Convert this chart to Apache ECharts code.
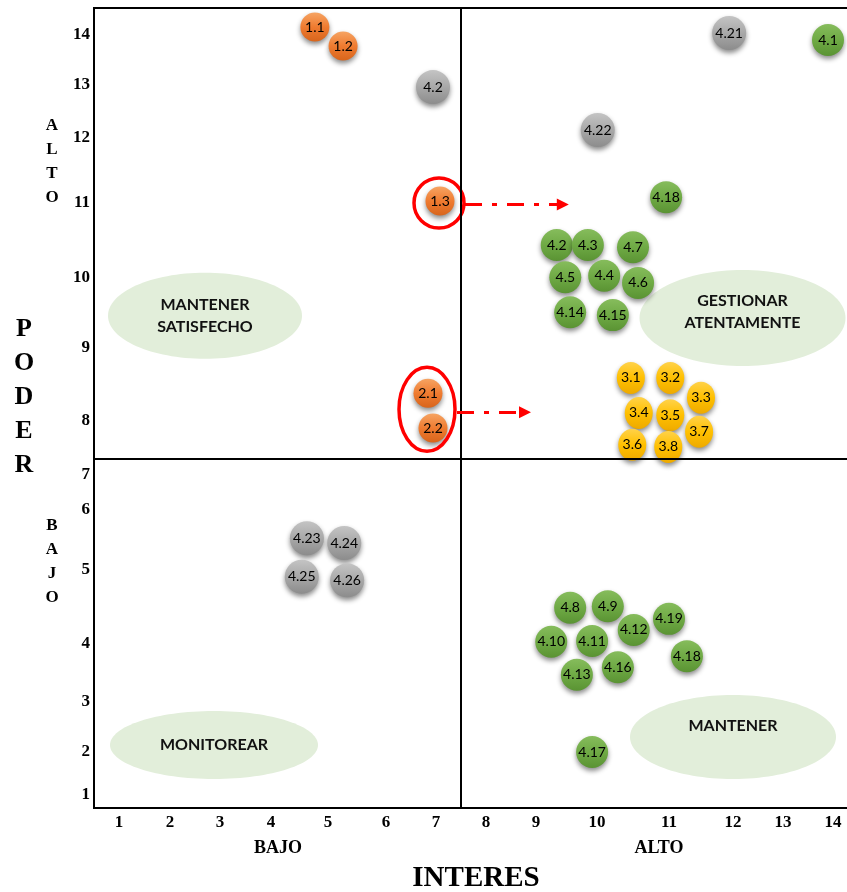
<!DOCTYPE html>
<html>
<head>
<meta charset="utf-8">
<script src="https://cdn.jsdelivr.net/npm/echarts@6/dist/echarts.min.js"></script>
<style>html,body{margin:0;padding:0;background:#fff}#chart{width:847px;height:892px}</style>
</head>
<body>
<div id="chart"></div>
<script>
// ---- Axis ticks (labels and their positions along the non-uniform axes) ----
const xTickLabels = ['1','2','3','4','5','6','7','8','9','10','11','12','13','14'];
const xTickPos = [119,170,220,271,328,386,436,486,536,597,669,733,783,833];
const yTickLabels = ['1','2','3','4','5','6','7','8','9','10','11','12','13','14'];
const yTickPos = [795,752,702,644,570,510,475,421,348,278,203,138,85,35];

// ---- Stakeholders (interes, poder) ----
const orangeNames = ['1.1','1.2','1.3','2.1','2.2'];
const orangeInteres = [4.77,5.26,7.08,6.84,6.94];
const orangePoder = [14.16,13.78,11.03,8.38,7.87];

const greyNames = ['4.2','4.21','4.22','4.23','4.24','4.25','4.26'];
const greyInteres = [6.94,11.94,10.01,4.63,5.28,4.54,5.33];
const greyPoder = [12.96,14.04,12.15,5.53,5.45,4.91,4.86];

const greenNames = ['4.1','4.18','4.2','4.3','4.7','4.5','4.4','4.6','4.14','4.15','4.8','4.9','4.19','4.12','4.10','4.11','4.18','4.16','4.13','4.17'];
const greenInteres = [13.9,10.96,9.34,9.85,10.5,9.48,10.1,10.57,9.56,10.22,9.56,10.15,11.0,10.51,9.25,9.92,11.28,10.29,9.67,9.92];
const greenPoder = [13.9,11.09,10.44,10.44,10.41,10.01,10.03,9.93,9.51,9.47,4.49,4.51,4.34,4.19,4.03,4.04,3.79,3.6,3.47,2.0];

const yellowNames = ['3.1','3.2','3.3','3.4','3.5','3.6','3.7','3.8'];
const yellowInteres = [10.47,11.02,11.5,10.58,11.02,10.49,11.47,10.99];
const yellowPoder = [8.59,8.59,8.32,8.11,8.08,7.56,7.8,7.52];

// ---- Quadrant zones ----
const zoneNames = ['MANTENER\nSATISFECHO','GESTIONAR\nATENTAMENTE','MONITOREAR','MANTENER'];
const zoneInteres = [2.7,12.19,2.88,12.0];
const zonePoder = [9.46,9.43,2.14,2.3];

// ---- Highlight rings and arrows ----
const ringInteres = [7.06,6.82];
const ringPoder = [11.0,8.16];
const arrowFromInteres = [7.58,7.42];
const arrowToInteres = [9.44,8.78];
const arrowPoder = [10.98,8.12];

// ---- Quadrant dividers ----
const dividerInteres = 7.5;
const dividerPoder = 7.3;

// styles
const zoneStyle = [{rx:97,ry:43,dy:0},{rx:103,ry:48,dy:-6},{rx:104,ry:34,dy:0},{rx:103,ry:42,dy:-11}];
const ringStyle = [{rx:25,ry:25},{rx:28,ry:42}];

function warp(v, ticks, pos) {
  const t = ticks.map(Number);
  let i = 0;
  while (i < t.length - 2 && v > t[i + 1]) i++;
  return pos[i] + (v - t[i]) * (pos[i + 1] - pos[i]) / (t[i + 1] - t[i]);
}
const wx = v => warp(v, xTickLabels, xTickPos);
const wy = v => warp(v, yTickLabels, yTickPos);

function bubbles(names, xs, ys) {
  return names.map((n, i) => ({ name: n, value: [wx(xs[i]), wy(ys[i])] }));
}
function grad(c1, c2, c3) {
  return new echarts.graphic.LinearGradient(0, 0, 0, 1, [
    { offset: 0, color: c1 }, { offset: 0.5, color: c2 }, { offset: 1, color: c3 }
  ]);
}
const bubbleLabel = { show: true, position: 'inside', formatter: '{b}', color: '#000', fontFamily: 'Lato', fontSize: 14,
  textBorderWidth: 0, textBorderColor: 'transparent', textShadowBlur: 0 };
const shadow = { opacity: 1, shadowColor: 'rgba(0,0,0,0.45)', shadowBlur: 5, shadowOffsetY: 3 };

const serif = '"Liberation Serif", "Times New Roman", serif';

const chart = echarts.init(document.getElementById('chart'), null, { renderer: 'canvas' });
chart.setOption({
  animation: false,
  backgroundColor: '#fff',
  grid: { left: 94, top: 8, width: 756, height: 800, show: true, borderColor: '#000', borderWidth: 2, backgroundColor: 'transparent', outerBoundsMode: 'none' },
  xAxis: {
    type: 'value', min: 94, max: 850,
    axisLine: { show: false }, axisTick: { show: false }, splitLine: { show: false },
    axisLabel: {
      customValues: xTickPos, margin: 6, hideOverlap: false,
      formatter: v => xTickLabels[xTickPos.indexOf(v)],
      fontFamily: serif, fontWeight: 'bold', fontSize: 17, color: '#000'
    }
  },
  yAxis: {
    type: 'value', inverse: true, min: 8, max: 808,
    axisLine: { show: false }, axisTick: { show: false }, splitLine: { show: false },
    axisLabel: {
      customValues: yTickPos, margin: 4, hideOverlap: false,
      formatter: v => yTickLabels[yTickPos.indexOf(v)],
      fontFamily: serif, fontWeight: 'bold', fontSize: 17, color: '#000'
    }
  },
  series: [
    {
      type: 'custom', silent: true, z: 1,
      data: zoneNames.map((n, i) => [wx(zoneInteres[i]), wy(zonePoder[i])]),
      renderItem: (params, api) => {
        const c = api.coord([api.value(0), api.value(1)]);
        const s = zoneStyle[params.dataIndex];
        return { type: 'group', children: [
          { type: 'ellipse', shape: { cx: c[0], cy: c[1], rx: s.rx, ry: s.ry }, style: { fill: '#E2EEDA' } },
          { type: 'text', x: c[0], y: c[1] + s.dy, style: { text: zoneNames[params.dataIndex], font: 'bold 16px Lato', fill: '#111', align: 'center', verticalAlign: 'middle', lineHeight: 22 } }
        ] };
      },
      markLine: {
        silent: true, symbol: 'none', label: { show: false },
        lineStyle: { color: '#000', width: 2, type: 'solid' },
        data: [{ xAxis: wx(dividerInteres) }, { yAxis: wy(dividerPoder) }]
      }
    },
    {
      type: 'scatter', name: 'orange', z: 3, silent: true, symbolSize: 29,
      data: bubbles(orangeNames, orangeInteres, orangePoder),
      itemStyle: Object.assign({ color: grad('#F6A463', '#EF7B30', '#D8651C') }, shadow),
      label: bubbleLabel
    },
    {
      type: 'scatter', name: 'grey', z: 3, silent: true, symbolSize: 34,
      data: bubbles(greyNames, greyInteres, greyPoder),
      itemStyle: Object.assign({ color: grad('#C4C4C4', '#A8A8A8', '#8C8C8C') }, shadow),
      label: bubbleLabel
    },
    {
      type: 'scatter', name: 'green', z: 3, silent: true, symbolSize: 32,
      data: bubbles(greenNames, greenInteres, greenPoder),
      itemStyle: Object.assign({ color: grad('#86BC5C', '#6FAA45', '#5A9333') }, shadow),
      label: bubbleLabel
    },
    {
      type: 'scatter', name: 'yellow', z: 3, silent: true, symbolSize: [28, 32],
      data: bubbles(yellowNames, yellowInteres, yellowPoder),
      itemStyle: Object.assign({ color: grad('#FFD24A', '#FFC000', '#EEAA00') }, shadow),
      label: bubbleLabel
    },
    {
      type: 'custom', silent: true, z: 4,
      data: ringInteres.map((x, i) => [wx(x), wy(ringPoder[i])]),
      renderItem: (params, api) => {
        const c = api.coord([api.value(0), api.value(1)]);
        const s = ringStyle[params.dataIndex];
        return { type: 'ellipse', shape: { cx: c[0], cy: c[1], rx: s.rx, ry: s.ry }, style: { fill: 'none', stroke: '#FF0000', lineWidth: 3.5 } };
      },
      markLine: {
        silent: true, symbol: ['none', 'triangle'], symbolSize: 12, label: { show: false },
        lineStyle: { color: '#FF0000', width: 3, type: [17, 10, 5, 10] },
        itemStyle: { color: '#FF0000' },
        data: arrowPoder.map((p, i) => [
          { coord: [wx(arrowFromInteres[i]), wy(p)] },
          { coord: [wx(arrowToInteres[i]), wy(p)] }
        ])
      }
    }
  ],
  graphic: [
    { type: 'text', x: 24, y: 397, style: { text: 'P\nO\nD\nE\nR', font: 'bold 26px ' + serif, fill: '#000', align: 'center', verticalAlign: 'middle', lineHeight: 34 } },
    { type: 'text', x: 52, y: 162, style: { text: 'A\nL\nT\nO', font: 'bold 17px ' + serif, fill: '#000', align: 'center', verticalAlign: 'middle', lineHeight: 24 } },
    { type: 'text', x: 52, y: 562, style: { text: 'B\nA\nJ\nO', font: 'bold 17px ' + serif, fill: '#000', align: 'center', verticalAlign: 'middle', lineHeight: 24 } },
    { type: 'text', x: 278, y: 848, style: { text: 'BAJO', font: 'bold 18px ' + serif, fill: '#000', align: 'center', verticalAlign: 'middle' } },
    { type: 'text', x: 659, y: 848, style: { text: 'ALTO', font: 'bold 18px ' + serif, fill: '#000', align: 'center', verticalAlign: 'middle' } },
    { type: 'text', x: 476, y: 879, style: { text: 'INTERES', font: 'bold 29px ' + serif, fill: '#000', align: 'center', verticalAlign: 'middle' } }
  ]
});
</script>
</body>
</html>
